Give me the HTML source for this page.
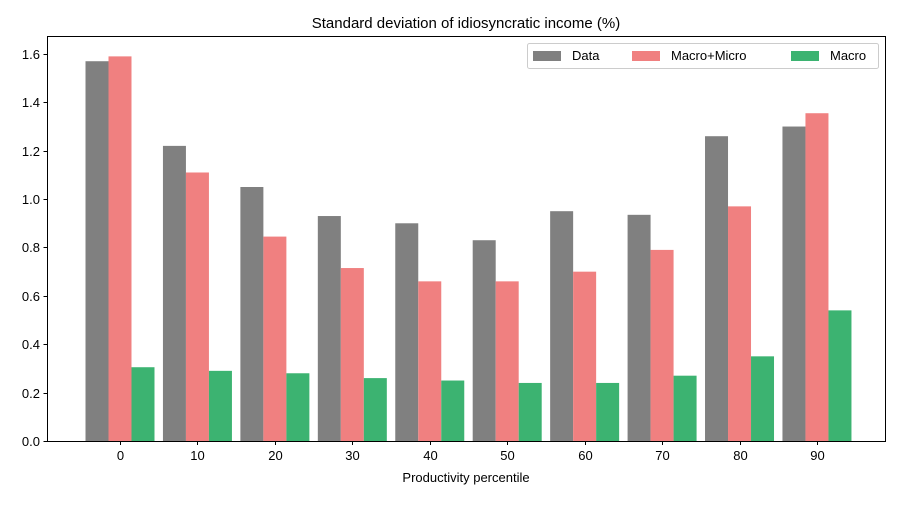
<!DOCTYPE html>
<html><head><meta charset="utf-8"><style>
body{margin:0;background:#fff}
svg{font-family:"Liberation Sans","DejaVu Sans",sans-serif}
</style></head><body>
<svg id="chart" width="900" height="500" xmlns="http://www.w3.org/2000/svg">
<rect width="900" height="500" fill="#fff"/>
<text x="466" y="28" font-size="15" text-anchor="middle">Standard deviation of idiosyncratic income (%)</text>
<g id="bars"></g>
<g id="axes"></g>
<text x="466" y="482" font-size="13" text-anchor="middle">Productivity percentile</text>
<g>
<rect x="527.5" y="43.5" width="351" height="25" fill="#fff" stroke="#ccc" rx="2"/>
<rect x="533" y="51" width="28" height="10" fill="#808080"/>
<text x="572" y="60" font-size="13">Data</text>
<rect x="632" y="51" width="28" height="10" fill="#f08080"/>
<text x="671" y="60" font-size="13">Macro+Micro</text>
<rect x="791" y="51" width="28" height="10" fill="#3cb371"/>
<text x="830" y="60" font-size="13">Macro</text>
</g>
</svg>
<script>
const categories=[0,10,20,30,40,50,60,70,80,90];
const dataSeries=[1.57,1.22,1.05,0.93,0.90,0.83,0.95,0.935,1.26,1.30];
const macroMicroSeries=[1.59,1.11,0.845,0.715,0.66,0.66,0.70,0.79,0.97,1.355];
const macroSeries=[0.305,0.29,0.28,0.26,0.25,0.24,0.24,0.27,0.35,0.54];
const yTicks=[0,0.2,0.4,0.6,0.8,1.0,1.2,1.4,1.6];
const NS="http://www.w3.org/2000/svg";
const L=47,R=885,T=36,B=441;
const y=v=>B-v*241.9;
const x=c=>120+c*7.744;
const bw=23;
const bars=document.getElementById('bars'),axes=document.getElementById('axes');
function mk(tag,at,p){const e=document.createElementNS(NS,tag);for(const k in at)e.setAttribute(k,at[k]);p.appendChild(e);return e;}
const series=[[dataSeries,'#808080',-1,'data'],[macroMicroSeries,'#f08080',0,'macro-micro'],[macroSeries,'#3cb371',1,'macro']];
series.forEach(([vals,col,off,nm])=>{vals.forEach((v,i)=>{
const r=mk('rect',{x:x(categories[i])+off*bw-bw/2,y:y(v),width:bw,height:B-y(v),fill:col},bars);


});});
const f=mk('rect',{x:L+0.5,y:T+0.5,width:R-L,height:B-T,fill:'none',stroke:'#000','stroke-width':1},axes);


yTicks.forEach(t=>{const yy=Math.round(y(t))+0.5;
mk('line',{x1:L-3.5,x2:L+0.5,y1:yy,y2:yy,stroke:'#000'},axes);
const tx=mk('text',{x:L-7,y:yy+4.5,'font-size':13,'text-anchor':'end'},axes);tx.textContent=t.toFixed(1);


});
categories.forEach(c=>{const xx=Math.round(x(c))+0.5;
mk('line',{x1:xx,x2:xx,y1:B+0.5,y2:B+4,stroke:'#000'},axes);
const tx=mk('text',{x:xx,y:B+19,'font-size':13,'text-anchor':'middle'},axes);tx.textContent=c;


});
</script>
</body></html>
